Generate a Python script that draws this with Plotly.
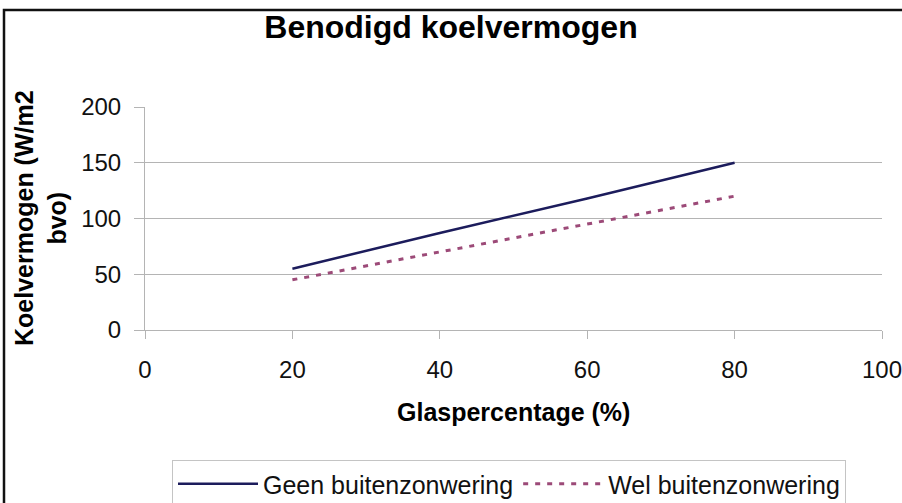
import plotly.graph_objects as go

glas_pct = [20, 40, 60, 80]
geen_buitenzonwering = [55, 87, 118, 150]
wel_buitenzonwering = [45, 70, 95, 120]
x_ticks = [0, 20, 40, 60, 80, 100]
y_ticks = [0, 50, 100, 150, 200]

W, H = 902, 503
L, R, T, B = 145, 20, 107, 173
pw, ph = W - L - R, H - T - B

def px(x):
    return (x - L) / pw

def py(y):
    return (H - B - y) / ph

FONT = "Liberation Sans, Arial, sans-serif"
GRID = "#b4b4b4"

fig = go.Figure()
fig.add_trace(go.Scatter(x=glas_pct, y=geen_buitenzonwering, mode="lines",
                         name="Geen buitenzonwering",
                         line=dict(color="#1c1c5c", width=2.5)))
fig.add_trace(go.Scatter(x=glas_pct, y=wel_buitenzonwering, mode="lines",
                         name="Wel buitenzonwering",
                         line=dict(color="#9c4a78", width=3, dash="5px,7px")))

fig.update_layout(
    width=W, height=H,
    margin=dict(l=L, r=R, t=T, b=B, autoexpand=False),
    paper_bgcolor="white", plot_bgcolor="white",
    font=dict(family=FONT, color="#111"),
    title=dict(text="<b>Benodigd koelvermogen</b>", x=0.5, xref="container",
               y=1 - 27 / H, yref="container", yanchor="middle", xanchor="center",
               font=dict(size=32, color="#000")),
    showlegend=True,
    legend=dict(orientation="h", x=px(172), y=py(460), xanchor="left", yanchor="top",
                bordercolor="#c4c4c4", borderwidth=1, bgcolor="white",
                font=dict(size=25, color="#111"), itemwidth=80),
    xaxis=dict(range=[0, 100], tickvals=x_ticks, showgrid=False, zeroline=False,
               showline=True, linecolor=GRID, linewidth=1,
               ticks="outside", ticklen=8, tickcolor=GRID, ticklabelstandoff=10,
               ticklabeloverflow="allow",
               tickfont=dict(size=24, color="#111")),
    yaxis=dict(range=[0, 200], tickvals=y_ticks, showgrid=True, gridcolor=GRID,
               gridwidth=1, zeroline=False, showline=True, linecolor=GRID,
               linewidth=1, ticks="outside", ticklen=10, tickcolor=GRID,
               ticklabelstandoff=8, ticklabeloverflow="allow",
               tickfont=dict(size=24, color="#111")),
    annotations=[
        dict(text="<b>Glaspercentage (%)</b>", xref="paper", yref="paper",
             x=0.5, y=py(412), xanchor="center", yanchor="middle",
             showarrow=False, font=dict(size=25, color="#000")),
        dict(text="<b>Koelvermogen (W/m2<br>bvo)</b>", xref="paper", yref="paper",
             x=px(40), y=py(218), xanchor="center", yanchor="middle",
             textangle=-90, showarrow=False, font=dict(size=25, color="#000")),
    ],
    shapes=[
        dict(type="rect", xref="paper", yref="paper",
             x0=px(4), x1=px(910), y0=py(10), y1=py(515),
             line=dict(color="#111", width=2.5), fillcolor="rgba(0,0,0,0)",
             layer="below"),
    ],
)

fig.write_html("out.html", config={"displayModeBar": False},
               post_script="document.body.style.margin='0';document.body.style.overflow='hidden';")
